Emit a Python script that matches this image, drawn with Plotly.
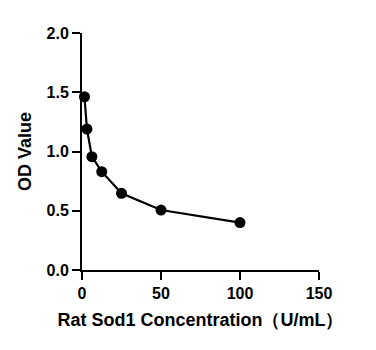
import plotly.graph_objects as go

# Standard curve: concentration vs optical density
concentration = [1.5625, 3.125, 6.25, 12.5, 25, 50, 100]
od_value = [1.462, 1.19, 0.956, 0.83, 0.647, 0.506, 0.40]

x_ticks = [0, 50, 100, 150]
y_ticks = [0.0, 0.5, 1.0, 1.5, 2.0]
y_tick_labels = ["0.0", "0.5", "1.0", "1.5", "2.0"]

font_family = "Liberation Sans, Arial, sans-serif"

fig = go.Figure(
    go.Scatter(
        x=concentration,
        y=od_value,
        mode="lines+markers",
        line=dict(color="black", width=2.2),
        marker=dict(color="black", size=11),
        cliponaxis=False,
    )
)

axis_common = dict(
    showgrid=False,
    zeroline=False,
    showline=True,
    linecolor="black",
    linewidth=2,
    ticks="outside",
    ticklen=8,
    tickwidth=2,
    tickcolor="black",
    tickfont=dict(family=font_family, size=16, color="black", weight="bold"),
)

fig.update_xaxes(
    range=[0, 150],
    tickvals=x_ticks,
    title=dict(
        text="Rat Sod1 Concentration（U/mL）",
        font=dict(family=font_family, size=18, color="black", weight="bold"),
        standoff=12,
    ),
    **axis_common,
)
fig.update_yaxes(
    range=[0, 2],
    tickvals=y_ticks,
    ticktext=y_tick_labels,
    title=dict(
        text="OD Value",
        font=dict(family=font_family, size=18, color="black", weight="bold"),
        standoff=10,
    ),
    **axis_common,
)

fig.update_layout(
    width=376,
    height=350,
    margin=dict(l=82, r=57, t=33, b=80),
    paper_bgcolor="white",
    plot_bgcolor="white",
    showlegend=False,
)

fig.write_html("out.html")
